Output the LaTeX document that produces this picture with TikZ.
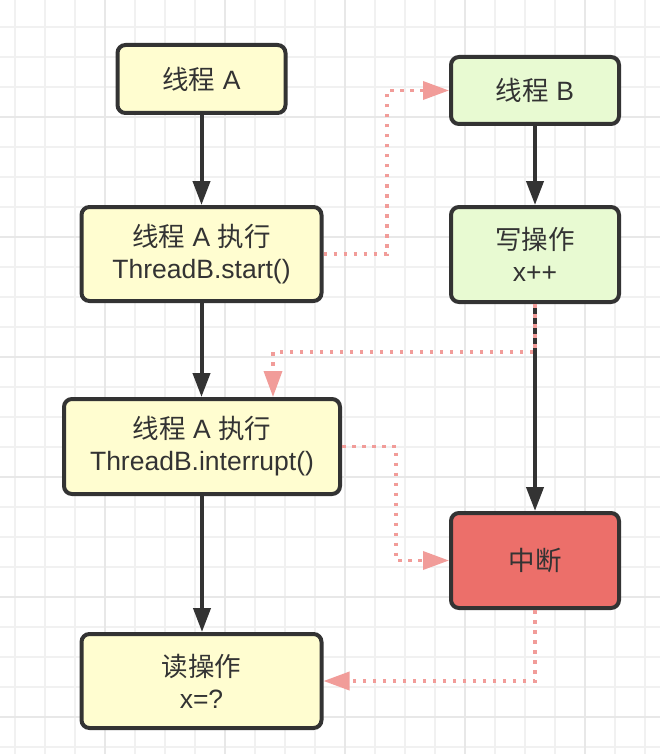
\documentclass[tikz,border=0pt]{standalone}
\usepackage{fontspec}
\setmainfont{Liberation Sans}
\newfontfamily\cjk{Noto Sans CJK SC}
\usetikzlibrary{arrows.meta}
\definecolor{ink}{HTML}{333333}
\definecolor{gridminor}{HTML}{F1F1F1}
\definecolor{gridmajor}{HTML}{E8E8E8}
\definecolor{yel}{HTML}{FFFDD0}
\definecolor{grn}{HTML}{E8FAD2}
\definecolor{redbox}{HTML}{EC6F6A}
\definecolor{pinkline}{HTML}{F19C99}
\newcommand\zh[1]{{\cjk #1}}
\tikzset{
  box/.style={draw=ink, line width=4pt, rounded corners=8pt, inner sep=0pt,
    align=center, text=ink, font=\fontsize{26.5}{32}\selectfont},
  yelbox/.style={box, fill=yel},
  grnbox/.style={box, fill=grn},
  rednode/.style={box, fill=redbox},
  flow/.style={draw=ink, line width=4pt, -{Triangle[length=24pt,width=17pt]}},
  dotflow/.style={draw=pinkline, line width=3.5pt, dash pattern=on 3.5pt off 6.5pt,
    -{Triangle[length=26pt,width=18pt]}},
  minorline/.style={draw=gridminor, line width=1.2pt},
  majorline/.style={draw=gridmajor, line width=1.8pt}
}
\begin{document}
\begin{tikzpicture}[x=1pt,y=-1pt]
\useasboundingbox (0,0) rectangle (660,754);
\fill[white] (0,0) rectangle (660,754);
\foreach \x in {15,45,...,645} \draw[minorline] (\x,0) -- (\x,754);
\foreach \y in {27,57,...,747} \draw[minorline] (0,\y) -- (660,\y);
\foreach \x in {105,225,345,465,585} \draw[majorline] (\x,0) -- (\x,754);
\foreach \y in {117,237,357,477,597,717} \draw[majorline] (0,\y) -- (660,\y);

\node[yelbox, minimum width=168pt, minimum height=68pt] (a) at (201.5,79) {\zh{线程} A};
\node[grnbox, minimum width=168pt, minimum height=67pt] (b) at (535,90.5) {\zh{线程} B};
\node[yelbox, minimum width=240pt, minimum height=94pt] (start) at (201.5,254) {\zh{线程} A \zh{执行}\\ThreadB.start()};
\node[grnbox, minimum width=168pt, minimum height=95pt] (wr) at (535,254.5) {\zh{写操作}\\x++};
\node[yelbox, minimum width=276pt, minimum height=95pt] (intr) at (202,446.5) {\zh{线程} A \zh{执行}\\ThreadB.interrupt()};
\node[rednode, minimum width=168pt, minimum height=95pt] (zd) at (535,560.5) {\zh{中断}};
\node[yelbox, minimum width=240pt, minimum height=94pt] (rd) at (201.5,681) {\zh{读操作}\\x=?};

\draw[flow] (a) -- (start);
\draw[flow] (start.south) -- (start.south |- intr.north);
\draw[flow] (intr.south) -- (intr.south |- rd.north);
\draw[flow] (b) -- (wr);
\draw[flow] (wr) -- (zd);

\coordinate (c1) at (387,254);
\coordinate (c2) at (273,352);
\coordinate (c3) at (396,446.5);
\draw[dotflow] (start.east) -- (c1) |- (b.west);
\draw[dotflow] (wr.south) |- (c2) -- (c2 |- intr.north);
\draw[dotflow] (intr.east) -- (c3) |- (zd.west);
\draw[dotflow] (zd.south) |- (rd.east);
\end{tikzpicture}
\end{document}
